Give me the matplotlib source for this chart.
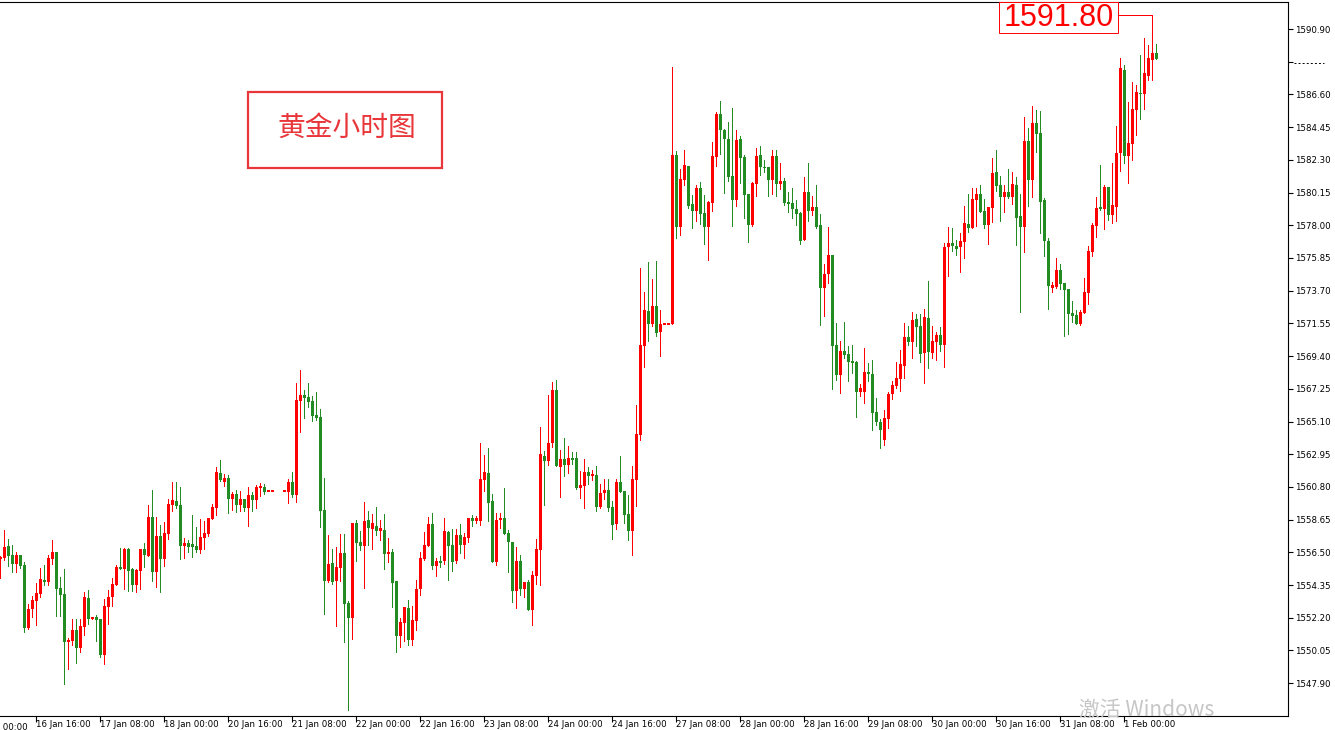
import numpy as np
import matplotlib
matplotlib.use("Agg")
import matplotlib.pyplot as plt
from matplotlib.patches import Rectangle
from matplotlib.lines import Line2D

nan = np.nan

# ---------------- data (hourly gold candles) ----------------
opens = [
    1556.06, 1556.12, 1556.92, 1556.32, 1555.73, 1556.32, 1555.66, 1551.52, 1552.77, 1553.30,
    1553.76, 1554.68, 1554.55, 1556.06, 1556.52, 1554.15, 1553.76, 1550.60, 1550.67, 1551.39,
    1550.21, 1551.59, 1553.49, 1552.12, 1552.25, 1552.12, 1549.75, 1552.90, 1553.56, 1554.35,
    1555.53, 1555.40, 1556.72, 1555.40, 1554.35, 1555.27, 1556.72, 1556.26, 1558.82, 1555.21,
    1557.57, 1556.06, 1557.71, 1559.61, 1559.87, 1559.61, 1556.92, 1557.11, 1557.05, 1556.92,
    1556.65, 1557.44, 1557.71, 1558.69, 1559.41, 1561.71, 1561.12, 1561.38, 1560.01, 1560.34,
    1559.61, 1560.01, 1559.41, 1560.27, 1559.94, 1560.73, 1560.79, 1560.53, 1560.53, nan,
    nan, 1560.53, 1560.47, 1561.12, 1560.27, 1566.45, 1566.84, 1566.71, 1566.45, 1565.53,
    1565.40, 1559.28, 1554.61, 1555.80, 1554.61, 1555.47, 1556.46, 1553.17, 1552.18, 1558.43,
    1557.18, 1556.92, 1558.62, 1558.03, 1558.23, 1557.90, 1557.97, 1556.39, 1556.52, 1554.61,
    1550.99, 1551.85, 1552.84, 1550.73, 1551.98, 1554.09, 1556.06, 1556.92, 1558.36, 1555.60,
    1555.93, 1555.93, 1557.84, 1556.98, 1555.93, 1557.64, 1556.98, 1557.44, 1558.75, 1558.56,
    1558.56, 1561.25, 1561.71, 1559.87, 1555.86, 1558.62, 1558.75, 1557.77, 1557.18, 1553.96,
    1555.93, 1554.09, 1554.55, 1552.71, 1554.94, 1556.65, 1562.83, 1562.50, 1563.69, 1567.17,
    1562.11, 1562.63, 1562.24, 1562.70, 1562.70, 1560.73, 1560.86, 1561.78, 1561.52, 1561.58,
    1559.48, 1560.40, 1560.60, 1559.48, 1558.36, 1561.12, 1560.53, 1559.02, 1557.90, 1561.25,
    1564.21, 1570.06, 1572.36, 1571.51, 1572.69, 1570.98, 1571.51, 1571.51, 1571.51, 1582.62,
    1577.89, 1580.98, 1581.89, 1579.40, 1578.94, 1580.45, 1578.81, 1577.89, 1579.47, 1582.49,
    1585.31, 1584.26, 1583.67, 1581.24, 1579.66, 1583.67, 1582.49, 1580.06, 1578.02, 1580.72,
    1582.62, 1581.83, 1581.83, 1580.98, 1582.55, 1580.72, 1580.91, 1579.53, 1579.47, 1579.07,
    1578.81, 1577.03, 1580.19, 1578.94, 1579.20, 1578.02, 1573.88, 1574.80, 1576.05, 1570.13,
    1568.16, 1569.73, 1569.54, 1569.08, 1569.01, 1567.04, 1567.04, 1568.36, 1568.22, 1565.73,
    1565.07, 1563.88, 1565.27, 1566.90, 1567.43, 1567.89, 1568.75, 1570.66, 1570.33, 1571.84,
    1571.38, 1569.60, 1571.90, 1569.60, 1570.33, 1570.79, 1570.13, 1576.57, 1576.83, 1576.63,
    1576.57, 1576.90, 1578.09, 1577.82, 1579.66, 1580.06, 1578.94, 1578.02, 1579.13, 1581.50,
    1580.65, 1579.86, 1580.19, 1579.86, 1580.65, 1578.61, 1577.89, 1583.54, 1580.98, 1584.72,
    1584.07, 1579.66, 1576.97, 1573.88, 1573.94, 1575.06, 1574.20, 1573.81, 1572.23, 1572.10,
    1571.51, 1572.23, 1573.55, 1576.24, 1577.95, 1579.20, 1579.07, 1580.52, 1578.68, 1579.20,
    1582.75, 1588.21, 1582.55, 1583.34, 1585.58, 1586.70, 1586.63, 1587.81, 1588.87, 1589.33,
]

highs = [
    1556.26, 1557.97, 1557.38, 1556.98, 1556.52, 1556.32, 1555.86, 1553.10, 1553.62, 1554.48,
    1555.47, 1555.66, 1556.32, 1557.31, 1556.52, 1554.87, 1555.40, 1550.86, 1552.12, 1552.12,
    1552.12, 1553.89, 1554.02, 1552.25, 1552.38, 1552.12, 1553.43, 1554.02, 1554.81, 1555.66,
    1556.78, 1556.78, 1556.78, 1555.47, 1555.40, 1556.72, 1557.11, 1559.61, 1560.60, 1558.82,
    1558.29, 1558.49, 1560.01, 1561.12, 1561.12, 1560.79, 1557.44, 1557.31, 1558.95, 1558.16,
    1558.69, 1558.56, 1558.75, 1559.68, 1562.11, 1562.57, 1561.65, 1561.58, 1560.47, 1560.60,
    1560.53, 1560.01, 1560.79, 1560.47, 1560.92, 1561.05, 1560.99, 1560.53, 1560.53, nan,
    nan, 1560.53, 1561.32, 1561.78, 1567.63, 1568.49, 1567.17, 1567.63, 1566.77, 1567.04,
    1565.92, 1561.38, 1557.64, 1556.72, 1556.85, 1557.71, 1557.71, 1553.30, 1558.43, 1558.62,
    1557.90, 1559.81, 1559.22, 1559.02, 1559.48, 1558.62, 1559.02, 1557.44, 1556.72, 1554.61,
    1552.18, 1552.90, 1553.36, 1552.97, 1554.68, 1556.52, 1557.84, 1558.82, 1559.08, 1556.12,
    1556.26, 1558.75, 1557.90, 1558.03, 1558.03, 1558.36, 1557.77, 1558.75, 1558.95, 1558.88,
    1563.69, 1562.90, 1563.36, 1560.34, 1559.08, 1559.08, 1560.73, 1557.97, 1557.18, 1556.85,
    1556.32, 1554.55, 1554.68, 1555.27, 1557.38, 1564.74, 1563.16, 1566.84, 1567.70, 1567.83,
    1563.23, 1564.01, 1563.49, 1563.10, 1563.10, 1561.84, 1562.63, 1562.11, 1561.91, 1562.17,
    1560.99, 1561.32, 1561.32, 1559.87, 1561.32, 1562.83, 1560.53, 1560.27, 1562.17, 1566.18,
    1575.19, 1573.61, 1575.59, 1574.47, 1575.65, 1572.43, 1571.51, 1571.51, 1588.41, 1582.88,
    1581.70, 1582.95, 1581.89, 1579.99, 1580.65, 1580.85, 1579.99, 1579.60, 1583.47, 1585.45,
    1586.17, 1584.33, 1584.79, 1585.71, 1584.26, 1583.87, 1582.62, 1580.06, 1580.85, 1583.08,
    1583.21, 1582.29, 1581.83, 1582.95, 1582.95, 1582.09, 1581.11, 1580.19, 1580.45, 1579.66,
    1578.87, 1581.17, 1582.09, 1579.92, 1580.65, 1578.74, 1575.45, 1577.89, 1576.05, 1571.57,
    1570.39, 1571.64, 1570.06, 1570.13, 1569.08, 1567.57, 1569.93, 1568.95, 1569.14, 1566.64,
    1565.27, 1565.86, 1567.04, 1567.76, 1569.01, 1569.80, 1571.57, 1571.38, 1572.30, 1572.17,
    1572.17, 1572.50, 1574.34, 1571.38, 1570.98, 1571.31, 1576.83, 1577.89, 1577.82, 1577.03,
    1577.49, 1579.27, 1580.06, 1580.45, 1580.45, 1580.65, 1579.73, 1579.20, 1582.42, 1582.95,
    1581.24, 1580.65, 1581.70, 1581.50, 1581.17, 1580.06, 1585.12, 1584.40, 1585.84, 1585.58,
    1585.51, 1579.79, 1577.16, 1574.27, 1575.85, 1575.45, 1574.20, 1573.81, 1573.02, 1572.43,
    1572.43, 1574.53, 1576.63, 1578.15, 1579.86, 1581.96, 1580.65, 1580.52, 1582.09, 1584.53,
    1588.99, 1588.54, 1586.10, 1587.42, 1587.22, 1589.19, 1590.31, 1589.85, 1590.31, 1589.92,
]

lows = [
    1554.81, 1555.99, 1555.60, 1555.21, 1555.21, 1555.47, 1551.26, 1551.46, 1552.25, 1551.72,
    1553.56, 1554.35, 1554.35, 1555.73, 1552.31, 1552.31, 1547.84, 1548.83, 1550.40, 1549.22,
    1549.95, 1551.06, 1551.79, 1552.12, 1550.67, 1549.62, 1549.16, 1551.79, 1552.97, 1554.35,
    1555.40, 1554.09, 1553.96, 1553.96, 1553.89, 1554.09, 1555.53, 1556.26, 1554.61, 1554.22,
    1553.89, 1555.60, 1557.38, 1559.22, 1559.41, 1556.06, 1556.12, 1556.52, 1556.19, 1556.52,
    1556.46, 1556.72, 1557.57, 1558.69, 1558.95, 1561.19, 1560.86, 1559.08, 1559.28, 1559.15,
    1559.22, 1559.22, 1558.23, 1559.22, 1559.41, 1560.21, 1560.34, 1560.53, 1560.53, nan,
    nan, 1560.53, 1559.74, 1560.14, 1559.81, 1564.41, 1565.33, 1566.05, 1565.13, 1565.20,
    1558.16, 1552.44, 1554.55, 1554.42, 1551.65, 1554.61, 1550.60, 1546.13, 1550.80, 1555.93,
    1556.65, 1554.15, 1556.98, 1556.72, 1557.64, 1557.31, 1555.40, 1555.86, 1552.90, 1549.95,
    1550.27, 1550.67, 1550.40, 1550.40, 1551.39, 1553.69, 1555.99, 1556.92, 1555.40, 1554.94,
    1555.53, 1555.73, 1554.68, 1555.27, 1555.80, 1556.46, 1556.12, 1557.18, 1558.23, 1558.43,
    1558.29, 1560.53, 1558.56, 1555.86, 1555.66, 1558.10, 1557.71, 1555.21, 1553.23, 1552.84,
    1553.69, 1553.56, 1552.71, 1551.72, 1554.42, 1554.35, 1559.61, 1562.24, 1563.42, 1562.17,
    1560.14, 1561.52, 1561.71, 1562.30, 1560.66, 1560.07, 1559.41, 1560.99, 1561.25, 1559.22,
    1559.41, 1560.01, 1559.22, 1557.38, 1558.03, 1560.47, 1558.43, 1557.31, 1556.32, 1559.55,
    1563.88, 1568.68, 1570.39, 1571.38, 1570.72, 1569.40, 1571.51, 1571.51, 1571.51, 1577.16,
    1577.36, 1580.65, 1579.13, 1577.82, 1578.28, 1578.09, 1576.77, 1575.72, 1578.94, 1581.89,
    1582.69, 1580.12, 1580.91, 1577.95, 1579.27, 1580.78, 1578.48, 1576.90, 1577.95, 1579.92,
    1581.30, 1581.50, 1579.92, 1580.06, 1579.92, 1580.39, 1579.33, 1578.87, 1578.48, 1578.02,
    1576.77, 1577.03, 1578.28, 1578.68, 1577.82, 1571.44, 1572.03, 1574.20, 1567.24, 1567.83,
    1566.97, 1569.27, 1567.76, 1568.29, 1565.40, 1566.77, 1566.31, 1567.76, 1564.54, 1564.87,
    1563.36, 1563.55, 1564.67, 1566.58, 1567.30, 1567.10, 1567.96, 1570.13, 1569.27, 1570.06,
    1569.01, 1567.63, 1568.62, 1569.27, 1569.14, 1569.73, 1568.68, 1574.66, 1576.31, 1576.05,
    1574.93, 1575.85, 1577.56, 1577.82, 1577.95, 1578.87, 1577.82, 1576.77, 1578.22, 1580.25,
    1578.28, 1578.87, 1579.79, 1579.40, 1576.70, 1572.30, 1576.24, 1579.27, 1579.86, 1582.82,
    1577.49, 1575.98, 1572.49, 1573.61, 1573.88, 1573.81, 1570.72, 1570.85, 1571.64, 1571.51,
    1571.44, 1572.23, 1572.82, 1575.98, 1577.23, 1579.00, 1577.75, 1578.35, 1578.15, 1578.28,
    1581.57, 1582.09, 1580.78, 1582.29, 1583.93, 1584.99, 1585.64, 1587.55, 1587.55, 1588.93,
]

closes = [
    1556.19, 1556.85, 1556.26, 1555.73, 1556.32, 1555.60, 1551.52, 1552.77, 1553.36, 1553.82,
    1554.74, 1554.55, 1556.12, 1556.52, 1554.09, 1553.69, 1550.60, 1550.73, 1551.39, 1550.21,
    1551.65, 1553.56, 1552.12, 1552.25, 1552.05, 1549.75, 1552.97, 1553.56, 1554.42, 1555.53,
    1555.40, 1556.72, 1555.27, 1554.35, 1555.34, 1556.72, 1556.32, 1558.82, 1555.21, 1557.57,
    1556.06, 1557.77, 1559.68, 1559.94, 1559.55, 1556.92, 1557.11, 1556.85, 1556.85, 1556.65,
    1557.51, 1557.77, 1558.75, 1559.48, 1561.78, 1561.25, 1561.38, 1560.01, 1560.34, 1559.61,
    1560.01, 1559.41, 1560.27, 1559.94, 1560.79, 1560.86, 1560.47, 1560.53, 1560.53, nan,
    nan, 1560.53, 1561.12, 1560.27, 1566.51, 1566.84, 1566.64, 1566.38, 1565.46, 1565.33,
    1559.22, 1554.61, 1555.73, 1554.55, 1555.53, 1556.46, 1553.10, 1552.18, 1558.43, 1557.11,
    1556.92, 1558.56, 1558.10, 1558.43, 1557.90, 1558.10, 1556.39, 1556.52, 1554.48, 1550.99,
    1551.92, 1552.90, 1550.73, 1552.05, 1554.09, 1556.12, 1556.98, 1558.36, 1555.60, 1555.93,
    1555.80, 1557.90, 1556.92, 1555.86, 1557.64, 1556.98, 1557.51, 1558.75, 1558.56, 1558.75,
    1561.32, 1561.78, 1559.74, 1555.86, 1558.62, 1558.75, 1557.71, 1557.18, 1553.96, 1555.93,
    1554.09, 1554.55, 1552.71, 1555.01, 1556.72, 1562.96, 1562.50, 1563.69, 1567.17, 1562.17,
    1562.63, 1562.24, 1562.70, 1562.57, 1560.73, 1560.92, 1561.78, 1561.52, 1561.65, 1559.48,
    1560.40, 1560.60, 1559.41, 1558.29, 1561.12, 1560.47, 1558.95, 1557.90, 1561.32, 1564.28,
    1570.13, 1572.43, 1571.51, 1572.69, 1570.92, 1571.51, 1571.51, 1571.51, 1582.62, 1577.89,
    1581.04, 1581.96, 1579.27, 1578.94, 1580.45, 1578.74, 1577.89, 1579.53, 1582.55, 1585.31,
    1584.26, 1583.67, 1581.17, 1579.66, 1583.61, 1582.42, 1579.99, 1578.02, 1580.78, 1582.55,
    1581.83, 1581.76, 1580.98, 1582.55, 1580.72, 1580.91, 1579.47, 1579.40, 1579.07, 1578.74,
    1576.97, 1580.19, 1578.94, 1579.20, 1577.89, 1573.88, 1574.80, 1576.05, 1570.06, 1568.16,
    1569.73, 1569.47, 1569.01, 1568.95, 1567.04, 1567.30, 1568.36, 1568.22, 1565.66, 1565.07,
    1564.54, 1565.33, 1566.90, 1567.50, 1567.96, 1568.88, 1570.66, 1570.33, 1571.77, 1571.31,
    1569.54, 1571.97, 1569.67, 1570.39, 1570.79, 1570.13, 1576.57, 1576.83, 1576.63, 1576.44,
    1576.97, 1578.15, 1577.82, 1579.73, 1580.06, 1578.87, 1578.02, 1579.20, 1581.43, 1580.58,
    1579.86, 1580.19, 1579.86, 1580.72, 1578.48, 1577.89, 1583.54, 1580.98, 1584.72, 1584.00,
    1579.53, 1576.97, 1574.01, 1574.07, 1575.06, 1574.14, 1573.75, 1572.17, 1572.03, 1571.51,
    1572.30, 1573.61, 1576.31, 1578.02, 1579.13, 1579.07, 1580.52, 1578.68, 1579.33, 1582.75,
    1588.34, 1582.55, 1583.41, 1585.64, 1586.76, 1586.63, 1588.01, 1588.99, 1589.33, 1588.93,
]

time_tick_bars = [9, 25, 41, 57, 73, 89, 105, 121, 137, 153, 169, 185, 201, 217, 233, 249, 265, 281]
time_tick_labels = ["16 Jan 16:00", "17 Jan 08:00", "18 Jan 00:00", "20 Jan 16:00", "21 Jan 08:00",
                    "22 Jan 00:00", "22 Jan 16:00", "23 Jan 08:00", "24 Jan 00:00", "24 Jan 16:00",
                    "27 Jan 08:00", "28 Jan 00:00", "28 Jan 16:00", "29 Jan 08:00", "30 Jan 00:00",
                    "30 Jan 16:00", "31 Jan 08:00", "1 Feb 00:00"]
first_cut_bar = -7
first_cut_label = "16 Jan 00:00"

price_ticks = [1547.90, 1550.05, 1552.20, 1554.35, 1556.50, 1558.65, 1560.80, 1562.95, 1565.10,
               1567.25, 1569.40, 1571.55, 1573.70, 1575.85, 1578.00, 1580.15, 1582.30, 1584.45,
               1586.60, 1588.75, 1590.90]
hidden_price_tick = 1588.75
marker_price = 1591.80
marker_bar = 288
title_text = "黄金小时图"

# ---------------- drawing ----------------
RED = "#ff0000"
GREEN = "#228b22"
W, H = 1335, 730

n = min(len(opens), len(highs), len(lows), len(closes))
o = np.array(opens[:n]); h = np.array(highs[:n]); l = np.array(lows[:n]); c = np.array(closes[:n])
x = np.arange(n)
valid = ~np.isnan(o)
cols = np.where(c >= o, RED, GREEN)

fig = plt.figure(figsize=(W / 100, H / 100), dpi=100)
fig.patch.set_facecolor("white")
ax = fig.add_axes([0, 14 / H, 1288 / W, 714 / H])
ax.set_facecolor("white")

ax.vlines(x[valid], l[valid], h[valid], colors=cols[valid], linewidth=0.55,
          antialiased=False, zorder=2)
diff = np.abs(c - o)
body_h = np.maximum(diff, 0.07)
body_b = np.minimum(o, c) - (body_h - diff) / 2
ax.bar(x[valid], body_h[valid], bottom=body_b[valid], width=0.72, color=cols[valid],
       linewidth=0, antialiased=False, zorder=3)

ax.set_xlim(-0.1, 1288 / 4 - 0.1)
ax.set_ylim(1545.74, 1592.68)

for side in ("top", "right", "bottom"):
    ax.spines[side].set_linewidth(0.8)
    ax.spines[side].set_color("black")
ax.spines["left"].set_visible(False)

# y axis on the right
ax.yaxis.tick_right()
ax.set_yticks(price_ticks)
ax.set_yticklabels(["" if abs(p - hidden_price_tick) < 1e-6 else f"{p:.2f}" for p in price_ticks])
ax.tick_params(axis="y", direction="out", length=3.5, width=0.8, pad=1.2,
               labelsize=6.2, colors="black")

# x axis
ax.set_xticks(time_tick_bars)
ax.set_xticklabels(time_tick_labels)
for lbl in ax.get_xticklabels():
    lbl.set_horizontalalignment("left")
ax.tick_params(axis="x", direction="out", length=4.3, width=0.8, pad=-1.6,
               labelsize=6.2, colors="black")
ax.text(first_cut_bar + 0.25, -0.0105, first_cut_label, transform=ax.get_xaxis_transform(),
        ha="left", va="top", fontsize=6.2, color="black", clip_on=False)

# dashed marker in place of the hidden price label
fig.add_artist(Line2D([1294 / W, 1324 / W], [1 - 63 / H, 1 - 63 / H], color="black",
                      linewidth=0.7, linestyle=(0, (2.0, 2.2))))

# title box
ax.add_patch(Rectangle((62, 1581.77), 48.5, 4.99, fill=False, edgecolor="#e8363a",
                       linewidth=1.6, zorder=5))
ax.text(86.6, 1584.40, title_text, ha="center", va="center", fontsize=20, color="#e8363a",
        family=["Noto Sans CJK SC", "DejaVu Sans"], zorder=6)

# price label with connector
ax.add_patch(Rectangle((249.75, 1590.64), 29.75, 1592.68 - 1590.64, facecolor="white",
                       edgecolor=RED, linewidth=0.7, zorder=5))
ax.text(264.6, 1591.66, f"{marker_price:.2f}", ha="center", va="center", fontsize=22,
        color=RED, family=["Liberation Sans", "DejaVu Sans"], zorder=6)
ax.plot([279.5, marker_bar, marker_bar], [marker_price, marker_price, highs[marker_bar]],
        color=RED, linewidth=0.55, antialiased=False, zorder=4)

# watermark (Windows activation notice seen in the screenshot)
fig.text(1079 / W, 1 - 710 / H, "激活 Windows", fontsize=15, color="#c6c6c6",
         family=["Noto Sans CJK SC", "DejaVu Sans"], ha="left", va="center")

fig.savefig("out.png", dpi=100, facecolor="white")
